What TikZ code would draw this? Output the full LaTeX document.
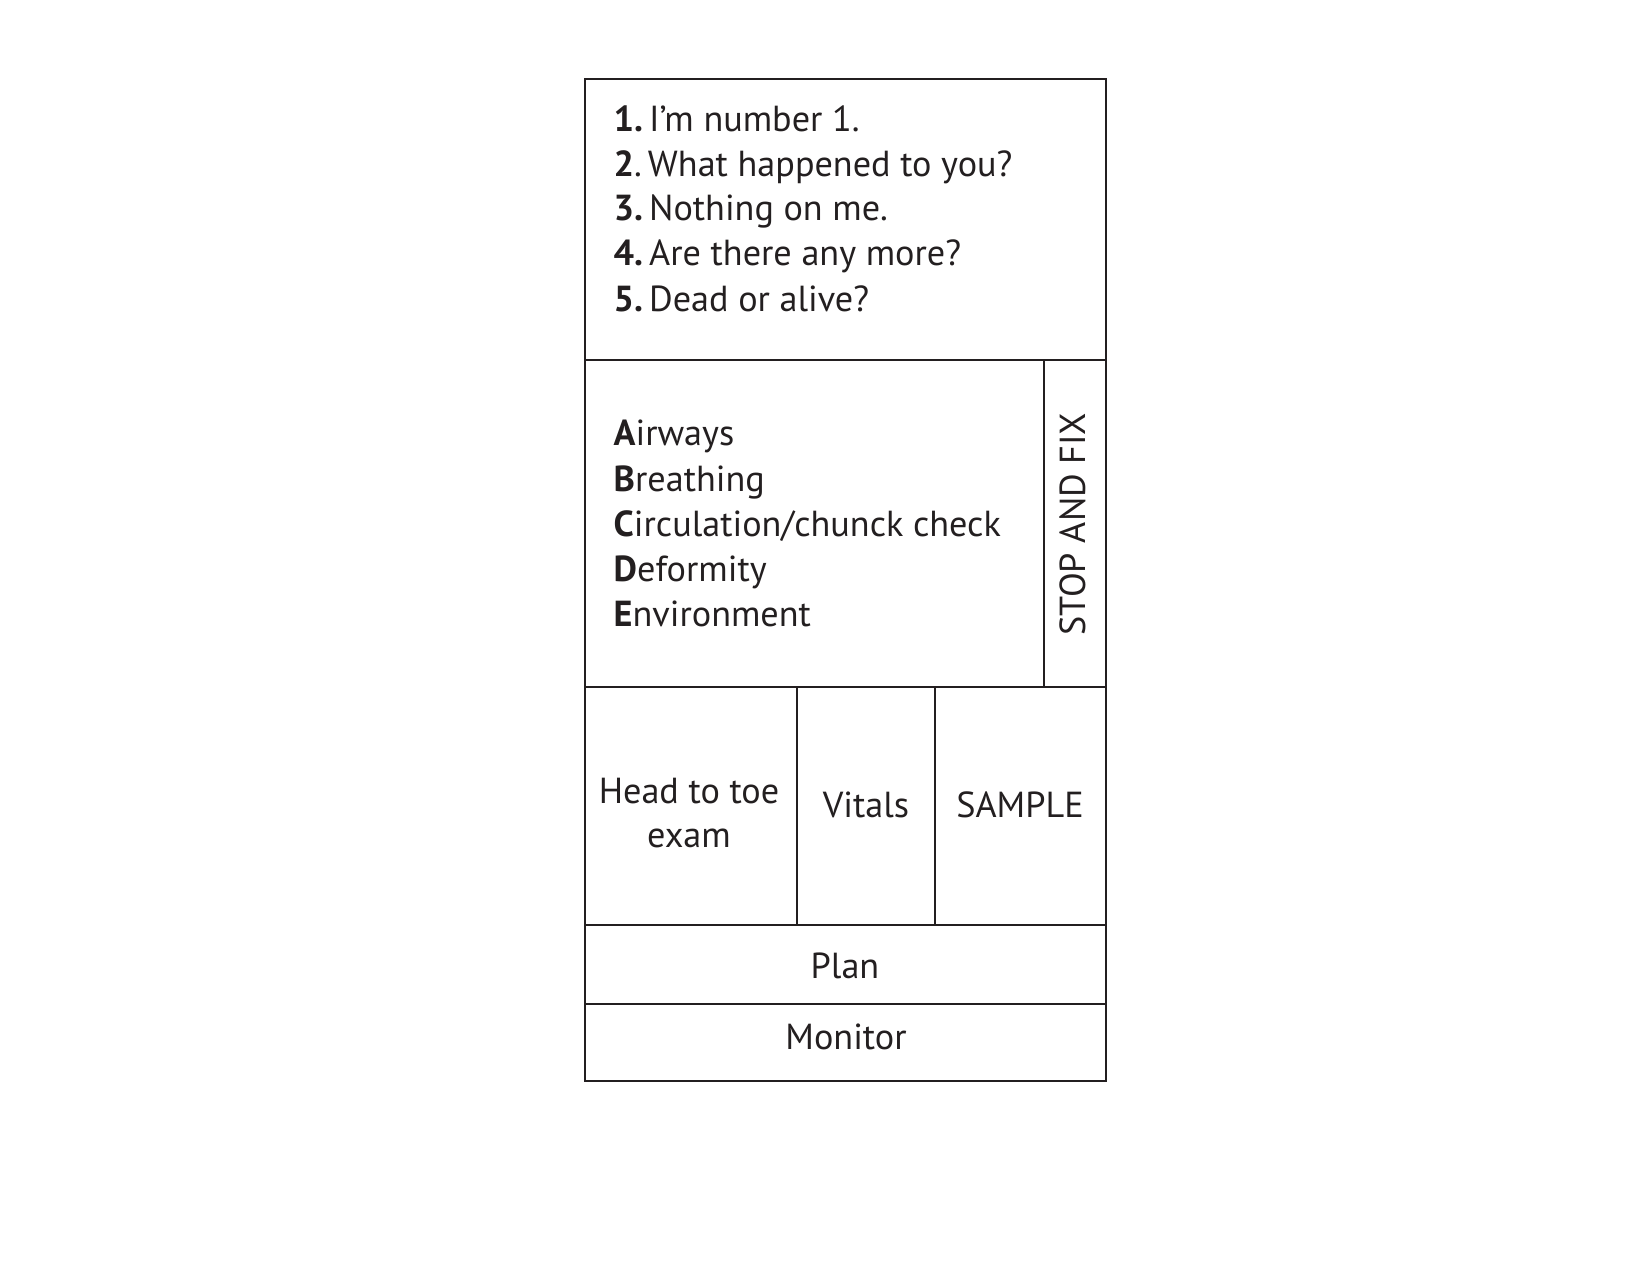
\documentclass[tikz,border=0pt]{standalone}
\usepackage{fontspec}
\setmainfont{PT Sans}
\definecolor{ink}{HTML}{231F20}
\tikzset{
  frame/.style={draw=ink,line width=0.2mm},
  thin/.style={draw=ink,line width=0.13mm},
  txt/.style={text=ink,inner sep=0pt,font=\fontsize{10.3}{12}\selectfont},
  item/.style={txt,anchor=base west},
  label/.style={txt,anchor=base}
}
\begin{document}
\begin{tikzpicture}[x=0.1mm,y=-0.1mm]
\useasboundingbox (0,0) rectangle (1650,1275);

% outline and rows
\draw[frame] (585,79) rectangle (1106,1081);
\draw[frame] (585,360) -- (1106,360);
\draw[frame] (585,687) -- (1106,687);
\draw[frame] (585,925) -- (1106,925);
\draw[frame] (585,1004) -- (1106,1004);

% columns
\draw[thin] (1044,360) -- (1044,687);
\draw[frame] (797,687) -- (797,925);
\draw[frame] (935,687) -- (935,925);

% five questions
\node[item] (q1) at (613,132) {\textbf{1.}\,I’m number 1.};
\node[item] (q2) at (613,177) {\textbf{2}.\,What happened to you?};
\node[item] (q3) at (613,221) {\textbf{3.}\,Nothing on me.};
\node[item] (q4) at (613,266) {\textbf{4.}\,Are there any more?};
\node[item] (q5) at (613,311) {\textbf{5.}\,Dead or alive?};

% primary survey
\node[item] (airways) at (613,445) {\textbf{A}irways};
\node[item] (breathing) at (613,491) {\textbf{B}reathing};
\node[item] (circulation) at (613,536) {\textbf{C}irculation/chunck check};
\node[item] (deformity) at (613,581) {\textbf{D}eformity};
\node[item] (environment) at (613,626) {\textbf{E}nvironment};
\node[label,rotate=90] (stopfix) at (1085,524) {STOP AND FIX};

% secondary survey
\node[label] (headtoe) at (689,803) {Head to toe};
\node[label] (exam) at (689,847) {exam};
\node[label] (vitals) at (866,817) {Vitals};
\node[label] (sample) at (1020,817) {SAMPLE};
\node[label] (plan) at (845,978) {Plan};
\node[label] (monitor) at (846,1049) {Monitor};
\end{tikzpicture}
\end{document}
